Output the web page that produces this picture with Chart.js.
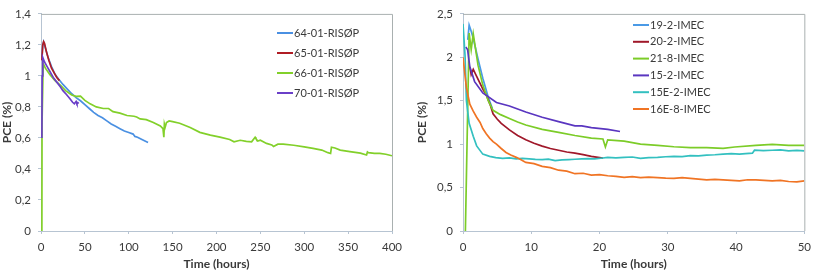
<!DOCTYPE html>
<html>
<head>
<meta charset="utf-8">
<script src="https://cdn.jsdelivr.net/npm/chart.js@4.4.1/dist/chart.umd.min.js"></script>
<style>
  body { margin: 0; background: #fff; }
  .wrap { position: relative; width: 817px; height: 271px; }
  #left { position: absolute; left: 0; top: 0; }
  #right { position: absolute; left: 410px; top: 0; }
</style>
</head>
<body>
<div class="wrap">
  <canvas id="left" width="410" height="271"></canvas>
  <canvas id="right" width="407" height="271"></canvas>
</div>
<script>
// ---- left panel: RISØP cells, time in hours 0-400
const leftNames = ["64-01-RISØP", "65-01-RISØP", "66-01-RISØP", "70-01-RISØP"];
const leftColors = ["#4a90e2", "#b01c24", "#82d02a", "#6a3fc8"];
const leftTicksX = [0, 50, 100, 150, 200, 250, 300, 350, 400];
const leftTicksY = [0, 0.2, 0.4, 0.6, 0.8, 1, 1.2, 1.4];

const t64 = [1, 2, 3, 5, 8, 12, 16, 20, 25, 30, 35, 40, 45, 50, 55, 60, 65, 70, 75, 80, 85, 90, 95, 100, 105, 107, 110, 115, 122];
const pce64 = [1.12, 1.2, 1.22, 1.18, 1.12, 1.06, 1.01, 0.98, 0.945, 0.915, 0.885, 0.86, 0.84, 0.815, 0.79, 0.765, 0.745, 0.73, 0.71, 0.69, 0.675, 0.66, 0.645, 0.635, 0.625, 0.61, 0.605, 0.59, 0.57];

const t65 = [1, 2, 3, 4, 6, 9, 12, 15, 18, 21];
const pce65 = [1.1, 1.2, 1.22, 1.21, 1.16, 1.1, 1.05, 1.02, 0.99, 0.97];

const t66 = [1, 1.2, 2.5, 5, 10, 16, 22, 28, 35, 40, 45, 50, 56, 63, 71, 77, 82, 90, 98, 106, 109, 113, 120, 128, 136, 139, 140, 140.6, 141.5, 143, 146, 150, 158, 170, 181, 193, 204, 215, 220, 227, 234, 240, 244, 245, 247, 250, 257, 263, 265, 270, 276, 288, 300, 310, 320, 327, 330, 331, 335, 341, 352, 364, 371, 372, 373, 380, 386, 393, 400];
const pce66 = [0, 0.7, 1.08, 1.05, 1.01, 0.97, 0.94, 0.905, 0.877, 0.868, 0.87, 0.842, 0.82, 0.8, 0.79, 0.79, 0.77, 0.76, 0.745, 0.74, 0.735, 0.723, 0.718, 0.7, 0.677, 0.66, 0.605, 0.69, 0.67, 0.7, 0.71, 0.705, 0.695, 0.667, 0.636, 0.618, 0.605, 0.59, 0.575, 0.585, 0.578, 0.575, 0.605, 0.595, 0.58, 0.585, 0.565, 0.555, 0.545, 0.56, 0.56, 0.553, 0.543, 0.533, 0.522, 0.505, 0.5, 0.54, 0.535, 0.522, 0.512, 0.502, 0.49, 0.51, 0.505, 0.5, 0.5, 0.495, 0.485];

const t70 = [1, 1.3, 2, 4, 7, 10, 14, 18, 22, 25, 29, 33, 36, 38, 40, 41, 43];
const pce70 = [0.6, 1.0, 1.12, 1.09, 1.06, 1.03, 0.99, 0.96, 0.93, 0.905, 0.88, 0.853, 0.83, 0.82, 0.835, 0.82, 0.83];

// ---- right panel: IMEC cells, time in hours 0-50
const rightNames = ["19-2-IMEC", "20-2-IMEC", "21-8-IMEC", "15-2-IMEC", "15E-2-IMEC", "16E-8-IMEC"];
const rightColors = ["#4a9ae6", "#a0182a", "#7ccc28", "#5a36c0", "#33c0c0", "#f07424"];
const rightTicksX = [0, 10, 20, 30, 40, 50];
const rightTicksY = [0, 0.5, 1, 1.5, 2, 2.5];

const t19 = [0.7, 0.9, 1.2, 1.5, 2.2, 2.9, 3.7, 4.3];
const pce19 = [2.2, 2.37, 2.3, 2.22, 1.98, 1.76, 1.54, 1.41];

const t20 = [1.0, 1.2, 1.5, 2.0, 2.5, 3.0, 3.4, 4.0, 4.4, 5.0, 5.6, 6.8, 8, 9.2, 10.4, 11.6, 12.8, 14, 15.2, 16.4, 17.6, 18.8, 20.5];
const pce20 = [1.89, 1.8, 1.86, 1.78, 1.7, 1.62, 1.57, 1.45, 1.35, 1.29, 1.24, 1.164, 1.1, 1.05, 1.01, 0.978, 0.95, 0.93, 0.91, 0.897, 0.88, 0.86, 0.84];

const t21 = [0.35, 0.9, 1.2, 1.5, 2.2, 2.9, 3.7, 4.4, 5.5, 6.8, 8, 9.2, 11.6, 14, 16.4, 18.8, 20.5, 20.86, 21.2, 23.6, 26, 28.5, 30.9, 33.3, 35.7, 38.1, 39.8, 42.9, 45.3, 47.7, 50];
const pce21 = [0, 2.28, 2.09, 2.27, 1.91, 1.68, 1.5, 1.39, 1.34, 1.295, 1.255, 1.22, 1.17, 1.135, 1.1, 1.07, 1.06, 0.967, 1.05, 1.034, 1.0, 0.985, 0.97, 0.96, 0.96, 0.952, 0.967, 0.985, 0.997, 0.986, 0.985];

const t15 = [0.4, 0.67, 1.0, 1.7, 2.9, 4.9, 6.8, 9.2, 11.6, 14, 16.4, 17.4, 18.8, 21.2, 23];
const pce15 = [2.12, 2.09, 1.89, 1.72, 1.59, 1.48, 1.44, 1.37, 1.31, 1.26, 1.21, 1.21, 1.19, 1.17, 1.146];

const t15E = [0, 0.3, 0.5, 0.9, 1.5, 2, 2.9, 3.9, 4.8, 5.8, 6.8, 7.8, 8.7, 9.7, 10.6, 11.6, 12.5, 13.5, 14.5, 15.5, 16.4, 17.4, 18.3, 19.3, 20.2, 21.2, 22.4, 23.6, 24.8, 26, 27.2, 28.5, 29.7, 30.9, 32.1, 33.3, 34.5, 35.7, 36.9, 38.1, 39.3, 40.5, 41.4, 42.4, 42.7, 44, 45.3, 46.5, 47.7, 48.9, 50];
const pce15E = [2.385, 2.02, 1.5, 1.24, 1.09, 0.98, 0.885, 0.86, 0.845, 0.837, 0.842, 0.83, 0.836, 0.83, 0.825, 0.822, 0.828, 0.81, 0.818, 0.822, 0.826, 0.83, 0.834, 0.83, 0.838, 0.848, 0.842, 0.848, 0.852, 0.837, 0.845, 0.848, 0.855, 0.86, 0.857, 0.867, 0.865, 0.874, 0.878, 0.885, 0.89, 0.885, 0.892, 0.896, 0.93, 0.925, 0.93, 0.935, 0.923, 0.928, 0.923];

const t16E = [0, 0.5, 1, 1.5, 2, 2.5, 2.9, 3.4, 3.9, 4.4, 4.9, 5.6, 6.3, 7, 7.8, 8.5, 9.2, 10.4, 11.6, 12.8, 14, 15.2, 16.4, 17.6, 18.8, 20, 21.2, 22.4, 23.6, 24.8, 26, 27.2, 28.5, 29.7, 30.9, 32.1, 33.3, 34.5, 35.7, 36.9, 38.1, 39.3, 40.5, 41.7, 42.9, 44.1, 45.3, 46.5, 47.7, 48.9, 50];
const pce16E = [2.0, 1.65, 1.46, 1.38, 1.31, 1.25, 1.18, 1.12, 1.07, 1.03, 1.0, 0.95, 0.904, 0.875, 0.848, 0.82, 0.79, 0.775, 0.744, 0.73, 0.7, 0.69, 0.66, 0.665, 0.644, 0.65, 0.636, 0.63, 0.617, 0.625, 0.614, 0.62, 0.614, 0.608, 0.606, 0.615, 0.606, 0.598, 0.588, 0.595, 0.588, 0.582, 0.577, 0.59, 0.588, 0.582, 0.577, 0.583, 0.57, 0.565, 0.577];

const axisColor = "#b7c4d2";
const textColor = "#3a3a3a";
const fontFamily = "Lato, 'Open Sans', sans-serif";

function pairs(xs, ys) {
  return xs.map((x, i) => ({ x: x, y: ys[i] }));
}

function commaLabel(v) {
  return Number(v.toFixed(1)).toString().replace(".", ",");
}

// legend drawn inside the plot + grey frame on top/right
function panelPlugin(names, colors, lx, ly, step) {
  return {
    id: "panelExtras",
    afterDraw(chart) {
      let ctx = chart.ctx;
      let a = chart.chartArea;
      ctx.save();
      ctx.strokeStyle = "#a9b0b0";
      ctx.lineWidth = 1;
      ctx.beginPath();
      ctx.moveTo(a.left, a.top + 0.5);
      ctx.lineTo(a.right + 0.5, a.top + 0.5);
      ctx.lineTo(a.right + 0.5, a.bottom);
      ctx.stroke();

      ctx.font = "11px " + fontFamily;
      ctx.textBaseline = "middle";
      ctx.fillStyle = textColor;
      names.forEach((n, i) => {
        let y = ly + i * step;
        ctx.strokeStyle = colors[i];
        ctx.lineWidth = 2;
        ctx.beginPath();
        ctx.moveTo(lx, y);
        ctx.lineTo(lx + 16, y);
        ctx.stroke();
        ctx.fillText(n, lx + 17, y);
      });
      ctx.restore();
    }
  };
}

function makeChart(id, series, names, colors, ticksX, ticksY, yWidth, pad, legend) {
  let datasets = series.map((s, i) => ({
    label: names[i],
    data: pairs(s[0], s[1]),
    borderColor: colors[i],
    borderWidth: 1.7,
    pointRadius: 0,
    showLine: true,
    fill: false,
    tension: 0
  }));
  datasets.reverse();

  return new Chart(document.getElementById(id), {
    type: "scatter",
    data: { datasets: datasets },
    options: {
      responsive: false,
      animation: false,
      devicePixelRatio: 1,
      layout: { padding: pad },
      plugins: { legend: { display: false }, tooltip: { enabled: false } },
      scales: {
        x: {
          type: "linear",
          min: ticksX[0],
          max: ticksX[ticksX.length - 1],
          afterBuildTicks: (scale) => { scale.ticks = ticksX.map((v) => ({ value: v })); },
          afterFit: (scale) => { scale.height = 40; },
          grid: { drawOnChartArea: false, tickLength: 3, color: axisColor },
          border: { color: axisColor, width: 1 },
          ticks: { color: textColor, font: { family: fontFamily, size: 11.5 }, padding: 6, maxRotation: 0 },
          title: {
            display: true,
            text: "Time (hours)",
            color: textColor,
            font: { family: fontFamily, size: 12, weight: "bold" },
            padding: { top: 0, bottom: 0 }
          }
        },
        y: {
          min: 0,
          max: ticksY[ticksY.length - 1],
          afterBuildTicks: (scale) => { scale.ticks = ticksY.map((v) => ({ value: v })); },
          afterFit: (scale) => { scale.width = yWidth; },
          grid: { drawOnChartArea: false, tickLength: 3, color: axisColor },
          border: { color: axisColor, width: 1 },
          ticks: { color: textColor, font: { family: fontFamily, size: 11.5 }, padding: 7, callback: (v) => commaLabel(v) },
          title: {
            display: true,
            text: "PCE (%)",
            color: textColor,
            font: { family: fontFamily, size: 12, weight: "bold" },
            padding: { top: 0, bottom: 0 }
          }
        }
      }
    },
    plugins: [panelPlugin(names, colors, legend[0], legend[1], legend[2])]
  });
}

makeChart("left",
  [[t64, pce64], [t65, pce65], [t66, pce66], [t70, pce70]],
  leftNames, leftColors, leftTicksX, leftTicksY,
  41, { left: 0, right: 18, top: 5, bottom: 0 }, [277, 33, 20]);

makeChart("right",
  [[t19, pce19], [t20, pce20], [t21, pce21], [t15, pce15], [t15E, pce15E], [t16E, pce16E]],
  rightNames, rightColors, rightTicksX, rightTicksY,
  48, { left: 5, right: 8, top: 7, bottom: 0 }, [223, 25, 16.8]);
</script>
</body>
</html>
